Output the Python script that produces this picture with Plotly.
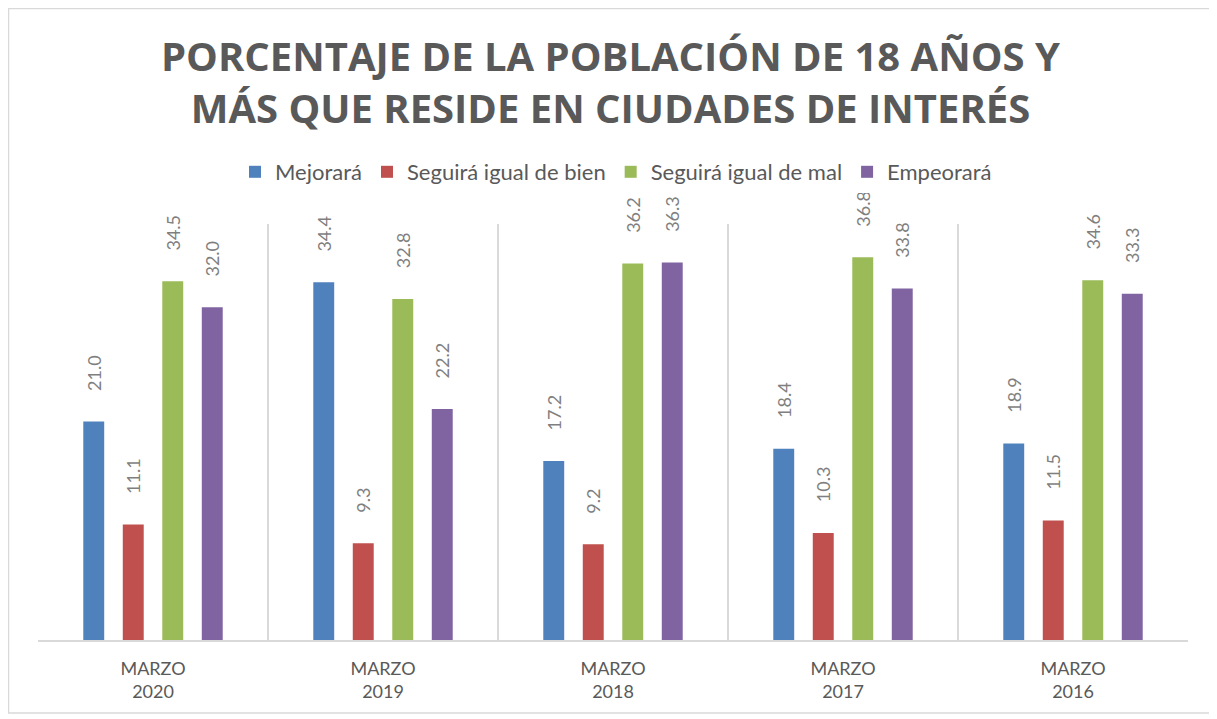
import plotly.graph_objects as go

categories = ["MARZO<br>2020", "MARZO<br>2019", "MARZO<br>2018", "MARZO<br>2017", "MARZO<br>2016"]
series_names = ["Mejorará", "Seguirá igual de bien", "Seguirá igual de mal", "Empeorará"]
mejorara = [21.0, 34.4, 17.2, 18.4, 18.9]
igual_bien = [11.1, 9.3, 9.2, 10.3, 11.5]
igual_mal = [34.5, 32.8, 36.2, 36.8, 34.6]
empeorara = [32.0, 22.2, 36.3, 33.8, 33.3]
colors = ["#4f81bd", "#c0504d", "#9bbb59", "#8064a2"]
title_text = "PORCENTAJE DE LA POBLACIÓN DE 18 AÑOS Y<br>MÁS QUE RESIDE EN CIUDADES DE INTERÉS"

# page has an 8px body margin: figure sized to fill the remaining window
W, H = 1209, 711
L, R, T, B = 30, 29, 216, 79
pw, ph = W - L - R, H - T - B

fig = go.Figure()
for name, vals, col in zip(series_names, [mejorara, igual_bien, igual_mal, empeorara], colors):
    fig.add_trace(go.Bar(
        x=categories, y=vals, name=name, marker_color=col, marker_line_width=0,
        text=["\u00a0" * 6 + f"{v:.1f}" for v in vals],
        textposition="outside", textangle=-90, constraintext="none",
        textfont=dict(family="Lato, Open Sans, sans-serif", size=18, color="#7f7f7f"),
        cliponaxis=False,
    ))

fig.update_layout(
    width=W, height=H,
    margin=dict(l=L, r=R, t=T, b=B, autoexpand=False),
    paper_bgcolor="white", plot_bgcolor="white",
    barmode="group", bargap=0.313, bargroupgap=0.47,
    legend=dict(
        orientation="h", x=(608 - L) / pw, xanchor="center", y=1 + (T - 164) / ph, yanchor="middle",
        font=dict(family="Lato, Open Sans, sans-serif", size=22, color="#595959"),
        itemwidth=30, traceorder="normal",
    ),
    xaxis=dict(
        type="category", tickson="boundaries", showgrid=True, gridcolor="#d9d9d9", gridwidth=1.5,
        showline=True, linecolor="#d9d9d9", linewidth=2, ticks="", zeroline=False,
        tickfont=dict(family="Lato, Open Sans, sans-serif", size=18, color="#595959"),
        ticklabelstandoff=11,
    ),
    yaxis=dict(range=[0, 40], visible=False, showgrid=False, zeroline=False),
    showlegend=True,
)

fig.add_annotation(
    text=title_text, xref="paper", yref="paper",
    x=(602 - L) / pw, y=1 + (T - 73) / ph, xanchor="center", yanchor="middle",
    showarrow=False, align="center",
    font=dict(family="Open Sans, sans-serif", size=40, color="#595959", weight="bold"),
)

fig.add_shape(type="rect", xref="paper", yref="paper",
              x0=(0.5 - L) / pw, x1=(1207 - L) / pw,
              y0=(H - B - 705) / ph, y1=(H - B - 0.5) / ph,
              line=dict(color="#d9d9d9", width=1.5), fillcolor="rgba(0,0,0,0)", layer="below")

fig.write_html("out.html")
